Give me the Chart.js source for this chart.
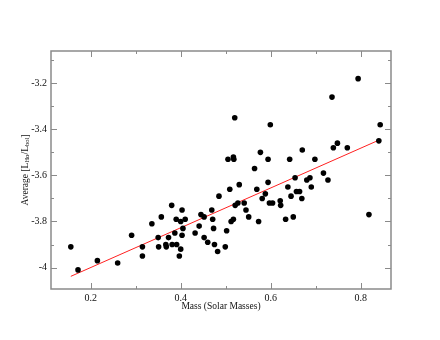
<!DOCTYPE html>
<html>
<head>
<meta charset="utf-8">
<script src="https://cdn.jsdelivr.net/npm/chart.js@4"></script>
<style>
  body { margin: 0; background: #fff; }
  #wrap { width: 440px; height: 340px; }
</style>
</head>
<body>
<div id="wrap"><canvas id="chart_mass" width="440" height="340"></canvas></div>
<script>
// mass (solar masses) and average log(L_Ha/L_bol)
const massX = [0.156, 0.172, 0.215, 0.260, 0.291, 0.315, 0.315, 0.336, 0.357, 0.350,
  0.351, 0.367, 0.368, 0.373, 0.380, 0.381, 0.387, 0.390, 0.391, 0.397,
  0.400, 0.400, 0.403, 0.403, 0.405, 0.410, 0.432, 0.441, 0.445, 0.452,
  0.452, 0.460, 0.469, 0.471, 0.473, 0.475, 0.482, 0.485, 0.499, 0.502,
  0.505, 0.509, 0.512, 0.517, 0.518, 0.517, 0.520, 0.521, 0.527, 0.530,
  0.541, 0.545, 0.551, 0.564, 0.569, 0.573, 0.577, 0.581, 0.588, 0.594,
  0.594, 0.597, 0.599, 0.604, 0.621, 0.622, 0.633, 0.638, 0.642, 0.645,
  0.650, 0.654, 0.657, 0.664, 0.669, 0.670, 0.680, 0.687, 0.690, 0.698,
  0.717, 0.727, 0.736, 0.739, 0.748, 0.770, 0.794, 0.818, 0.840, 0.843];
const haRatio = [-3.91, -4.01, -3.97, -3.98, -3.86, -3.91, -3.95, -3.81, -3.78, -3.87,
  -3.91, -3.90, -3.91, -3.87, -3.73, -3.90, -3.85, -3.79, -3.90, -3.95,
  -3.92, -3.80, -3.75, -3.86, -3.83, -3.79, -3.85, -3.82, -3.77, -3.78,
  -3.87, -3.89, -3.75, -3.79, -3.83, -3.90, -3.93, -3.69, -3.91, -3.84,
  -3.53, -3.66, -3.80, -3.52, -3.53, -3.79, -3.35, -3.73, -3.72, -3.64,
  -3.72, -3.75, -3.78, -3.57, -3.66, -3.80, -3.50, -3.70, -3.68, -3.63,
  -3.53, -3.72, -3.38, -3.72, -3.71, -3.73, -3.79, -3.65, -3.53, -3.69,
  -3.78, -3.61, -3.67, -3.67, -3.70, -3.49, -3.62, -3.61, -3.65, -3.53,
  -3.59, -3.62, -3.26, -3.48, -3.46, -3.48, -3.18, -3.77, -3.45, -3.38];
// least squares line as drawn
const fitX = [0.156, 0.840];
const fitY = [-4.038, -3.447];
const tickX = [0.2, 0.4, 0.6, 0.8];
const tickY = [-4, -3.8, -3.6, -3.4, -3.2];
const minorX = [0.3, 0.5, 0.7];
const minorY = [-3.9, -3.7, -3.5, -3.3, -3.1];

const serif = "'Liberation Serif', 'DejaVu Serif', serif";
const frameColor = '#8a8a8a';

const boxPlugin = {
  id: 'box',
  afterDraw(chart) {
    const c = chart.ctx, a = chart.chartArea;
    const sx = chart.scales.x, sy = chart.scales.y;
    c.save();
    c.strokeStyle = frameColor;
    c.lineWidth = 1.5;
    c.strokeRect(a.left, a.top, a.right - a.left, a.bottom - a.top);
    c.lineWidth = 1;
    c.beginPath();
    const tx = (vals, len) => vals.forEach(v => {
      const p = Math.round(sx.getPixelForValue(v)) + 0.5;
      c.moveTo(p, a.bottom); c.lineTo(p, a.bottom - len);
      c.moveTo(p, a.top); c.lineTo(p, a.top + len);
    });
    const ty = (vals, len) => vals.forEach(v => {
      const p = Math.round(sy.getPixelForValue(v)) + 0.5;
      c.moveTo(a.left, p); c.lineTo(a.left + len, p);
      c.moveTo(a.right, p); c.lineTo(a.right - len, p);
    });
    tx(tickX, 6); tx(minorX, 3);
    ty(tickY, 6); ty(minorY, 3);
    c.stroke();

    // axis titles
    c.fillStyle = '#111';
    c.font = '9.5px ' + serif;
    c.textAlign = 'center';
    c.textBaseline = 'middle';
    c.fillText('Mass (Solar Masses)', (a.left + a.right) / 2, 306);

    const parts = [['Average [L', 0], ['H\u03b1', 1], ['/L', 0], ['bol', 1], [']', 0]];
    const big = '9.5px ' + serif, small = '6.5px ' + serif;
    let w = 0;
    parts.forEach(p => { c.font = p[1] ? small : big; w += c.measureText(p[0]).width; });
    c.translate(24, (a.top + a.bottom) / 2);
    c.rotate(-Math.PI / 2);
    c.textAlign = 'left';
    c.textBaseline = 'alphabetic';
    let x = -w / 2;
    parts.forEach(p => {
      c.font = p[1] ? small : big;
      c.fillText(p[0], x, p[1] ? 5 : 3.5);
      x += c.measureText(p[0]).width;
    });
    c.restore();
  }
};

const ctx_mass = document.getElementById('chart_mass').getContext('2d');
const massChart = new Chart(ctx_mass, {
  type: 'scatter',
  data: {
    datasets: [{
      data: massX.map((m, i) => ({ x: m, y: haRatio[i] })),
      backgroundColor: '#000',
      borderWidth: 0,
      pointRadius: 2.8
    }, {
      type: 'line',
      data: fitX.map((m, i) => ({ x: m, y: fitY[i] })),
      borderColor: '#ff2020',
      borderWidth: 1,
      pointRadius: 0
    }]
  },
  options: {
    responsive: false,
    animation: false,
    layout: { padding: { top: 51, right: 49, left: 0, bottom: 0 } },
    plugins: {
      legend: { display: false },
      tooltip: { enabled: false }
    },
    scales: {
      x: {
        type: 'linear',
        min: 0.112,
        max: 0.867,
        grid: { display: false, drawTicks: false },
        border: { display: false },
        afterBuildTicks: s => { s.ticks = tickX.map(v => ({ value: v })); },
        afterFit: s => { s.height = 51; },
        ticks: {
          padding: 3,
          color: '#111',
          font: { family: serif, size: 10 },
          callback: v => v.toFixed(1)
        }
      },
      y: {
        type: 'linear',
        min: -4.093,
        max: -3.06,
        grid: { display: false, drawTicks: false },
        border: { display: false },
        afterBuildTicks: s => { s.ticks = tickY.map(v => ({ value: v })); },
        afterFit: s => { s.width = 51; },
        ticks: {
          padding: 4,
          color: '#111',
          font: { family: serif, size: 10 },
          callback: v => (v === -4 ? '-4' : v.toFixed(1))
        }
      }
    }
  },
  plugins: [boxPlugin]
});
</script>
</body>
</html>
